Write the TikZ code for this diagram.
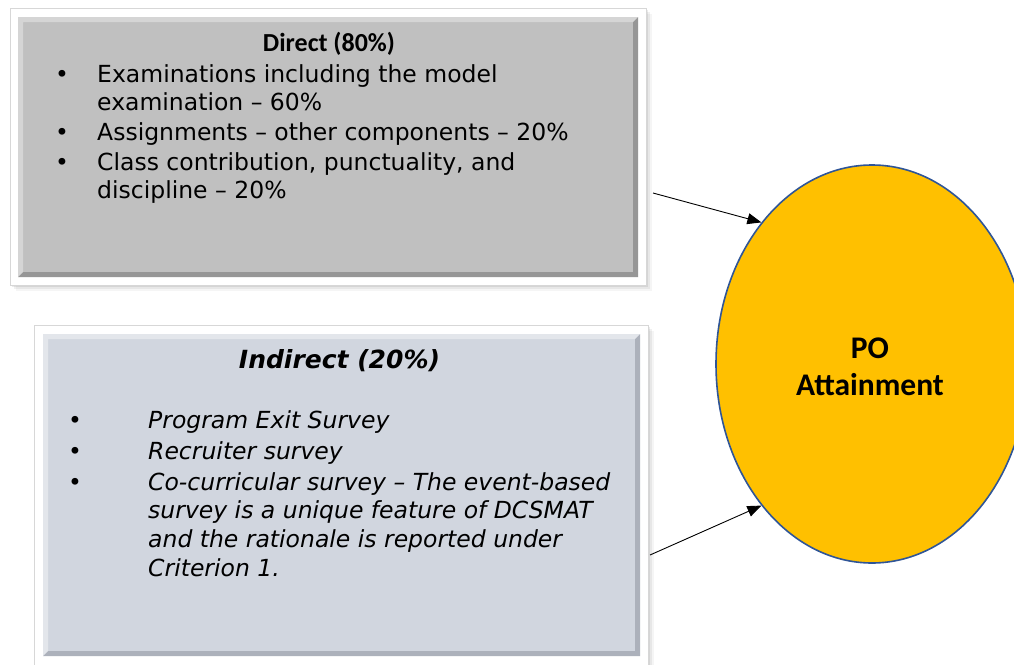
\documentclass[tikz,border=0pt]{standalone}
\usepackage{fontspec}
\setmainfont{DejaVu Sans}
\newfontfamily\headfont{Carlito}
\usetikzlibrary{arrows.meta,shapes.geometric}

\definecolor{directgray}{RGB}{192,192,192}
\definecolor{directedge}{RGB}{150,150,150}
\definecolor{indirectgray}{RGB}{209,214,223}
\definecolor{indirectedge}{RGB}{172,177,187}
\definecolor{poyellow}{RGB}{255,192,0}
\definecolor{poblue}{RGB}{47,85,151}
\definecolor{framegray}{RGB}{215,215,215}

\tikzset{
  frame/.style={fill=white, draw=framegray, line width=0.6pt},
  bodytext/.style={anchor=base west, inner sep=0pt, font=\fontsize{23.5}{28}\selectfont},
  bodyital/.style={bodytext, font=\fontsize{23.5}{28}\selectfont\itshape},
  bullet/.style={anchor=base, inner sep=0pt, font=\fontsize{23.5}{28}\selectfont},
  conn/.style={-{Triangle[length=14pt,width=11pt]}, line width=0.9pt, black},
  goal/.style={ellipse, fill=poyellow, draw=poblue, line width=1.6pt,
    minimum width=312pt, minimum height=398pt, inner sep=0pt}
}

\begin{document}
\begin{tikzpicture}[x=1pt,y=-1pt]
\useasboundingbox (0,0) rectangle (1014,664);
\begin{scope}
\clip (0,0) rectangle (1014,664);

% soft drop shadows under the white frames
\foreach \o/\a in {6/0.04,4/0.06,2/0.08}{
  \fill[black,opacity=\a] (10+\o,8+\o) rectangle (646+\o,285+\o);
  \fill[black,opacity=\a] (34+\o,325+\o) rectangle (648+\o,670+\o);
}

% ---- Direct component box ----
\draw[frame] (10,8) rectangle (646,285);
\fill[directgray] (18,17) rectangle (638,277);
\fill[directedge] (18,277) -- (638,277) -- (638,17) -- (633,22) -- (633,272) -- (23,272) -- cycle;
\fill[white,opacity=0.35] (18,17) -- (638,17) -- (633,22) -- (23,22) -- (23,272) -- (18,277) -- cycle;

\node[anchor=base, inner sep=0pt, font=\headfont\bfseries\fontsize{26}{31}\selectfont]
  (dtitle) at (329,51.5) {Direct (80\%)};
\node[bullet] (db1) at (62,82) {•};
\node[bodytext] (d1a) at (97,82) {Examinations including the model};
\node[bodytext] (d1b) at (97,110) {examination – 60\%};
\node[bullet] (db2) at (62,140) {•};
\node[bodytext] (d2) at (97,140) {Assignments – other components – 20\%};
\node[bullet] (db3) at (62,170) {•};
\node[bodytext] (d3a) at (97,170) {Class contribution, punctuality, and};
\node[bodytext] (d3b) at (97,198) {discipline – 20\%};

% ---- Indirect component box ----
\draw[frame] (34,325) rectangle (648,672);
\fill[indirectgray] (43,334) rectangle (640,656);
\fill[indirectedge] (43,656) -- (640,656) -- (640,334) -- (635,339) -- (635,651) -- (48,651) -- cycle;
\fill[white,opacity=0.4] (43,334) -- (640,334) -- (635,339) -- (48,339) -- (48,651) -- (43,656) -- cycle;

\node[anchor=base, inner sep=0pt, font=\bfseries\itshape\fontsize{25}{30}\selectfont]
  (ititle) at (339.5,368) {Indirect (20\%)};
\node[bullet] (ib1) at (75,428) {•};
\node[bodyital] (i1) at (148,428) {Program Exit Survey};
\node[bullet] (ib2) at (75,459) {•};
\node[bodyital] (i2) at (148,459) {Recruiter survey};
\node[bullet] (ib3) at (75,490) {•};
\node[bodyital] (i3a) at (148,490) {Co-curricular survey – The event-based};
\node[bodyital] (i3b) at (148,518) {survey is a unique feature of DCSMAT};
\node[bodyital] (i3c) at (148,547) {and the rationale is reported under};
\node[bodyital] (i3d) at (148,576) {Criterion 1.};

% ---- PO attainment ----
\node[goal] (po) at (872,364) {};
\node[anchor=base, inner sep=0pt, font=\headfont\bfseries\fontsize{31.5}{37}\selectfont]
  (pol1) at (870,358) {PO};
\node[anchor=base, inner sep=0pt, font=\headfont\bfseries\fontsize{31.5}{37}\selectfont]
  (pol2) at (870,395) {Attainment};

% ---- connectors ----
\coordinate (s1) at (653,193);
\coordinate (s2) at (650,555);
\draw[conn] (s1) -- (po.128);
\draw[conn] (s2) -- (po.232);
\end{scope}
\end{tikzpicture}
\end{document}
